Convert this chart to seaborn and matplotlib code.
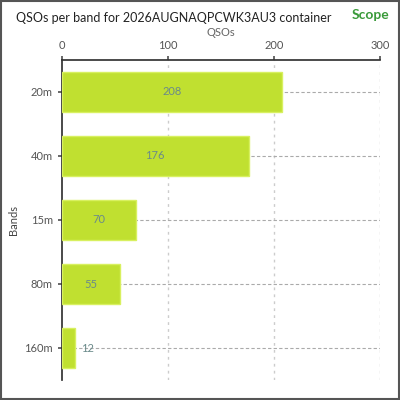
import matplotlib
matplotlib.use("Agg")
import matplotlib.pyplot as plt
import seaborn as sns
import pandas as pd
from matplotlib.patches import FancyBboxPatch

bands = ["20m", "40m", "15m", "80m", "160m"]
qsos = [208, 176, 70, 55, 12]
ticks = [0, 100, 200, 300]

sns.set_theme(style="white")
plt.rcParams['font.family'] = ['Lato', 'DejaVu Sans']
df = pd.DataFrame({"band": bands, "qsos": qsos})

fig = plt.figure(figsize=(4, 4), dpi=100)
ax = fig.add_axes([0.155, 0.05, 0.795, 0.80])
sns.barplot(data=df, y="band", x="qsos", color="#c0e030", width=0.62, ax=ax, saturation=1, zorder=3)
for p in ax.patches:
    p.set_edgecolor("#d8f060"); p.set_linewidth(1)
ax.set_xlim(0, 300)
ax.set_xticks(ticks)
ax.xaxis.tick_top()
ax.xaxis.set_label_position("top")
ax.set_xlabel("QSOs", color="#666666", fontsize=8, labelpad=3)
ax.set_ylabel("Bands", color="#444444", fontsize=8)
ax.tick_params(axis="both", labelsize=8, colors="#555555", length=3, left=True, top=True)
for x in ticks[1:]:
    ax.axvline(x, color="#cccccc", ls=(0, (2, 3)), lw=1, zorder=1)
for i in range(len(bands)):
    ax.axhline(i, color="#aaaaaa", ls=(0, (3, 2)), lw=0.8, zorder=1)
for i, v in enumerate(qsos):
    xpos = v / 2 if v > 30 else v + 6
    ax.text(xpos, i, str(v), ha="center" if v > 30 else "left", va="center", fontsize=8, color="#6a8a8a", zorder=4)
for s in ["right", "bottom"]:
    ax.spines[s].set_visible(False)
ax.spines["top"].set_color("#333333")
ax.spines["left"].set_color("#333333")
fig.text(0.04, 0.955, "QSOs per band for 2026AUGNAQPCWK3AU3 container", fontsize=9, color="#222222", va="center")
fig.text(0.88, 0.962, "Scope", fontsize=10, color="#3a9a3a", weight="bold", va="center")
fig.patches.append(FancyBboxPatch((0.003, 0.003), 0.994, 0.994, boxstyle="square,pad=0",
                                  transform=fig.transFigure, fill=False, ec="#555555", lw=1.5))
fig.savefig("out.png", dpi=100)
